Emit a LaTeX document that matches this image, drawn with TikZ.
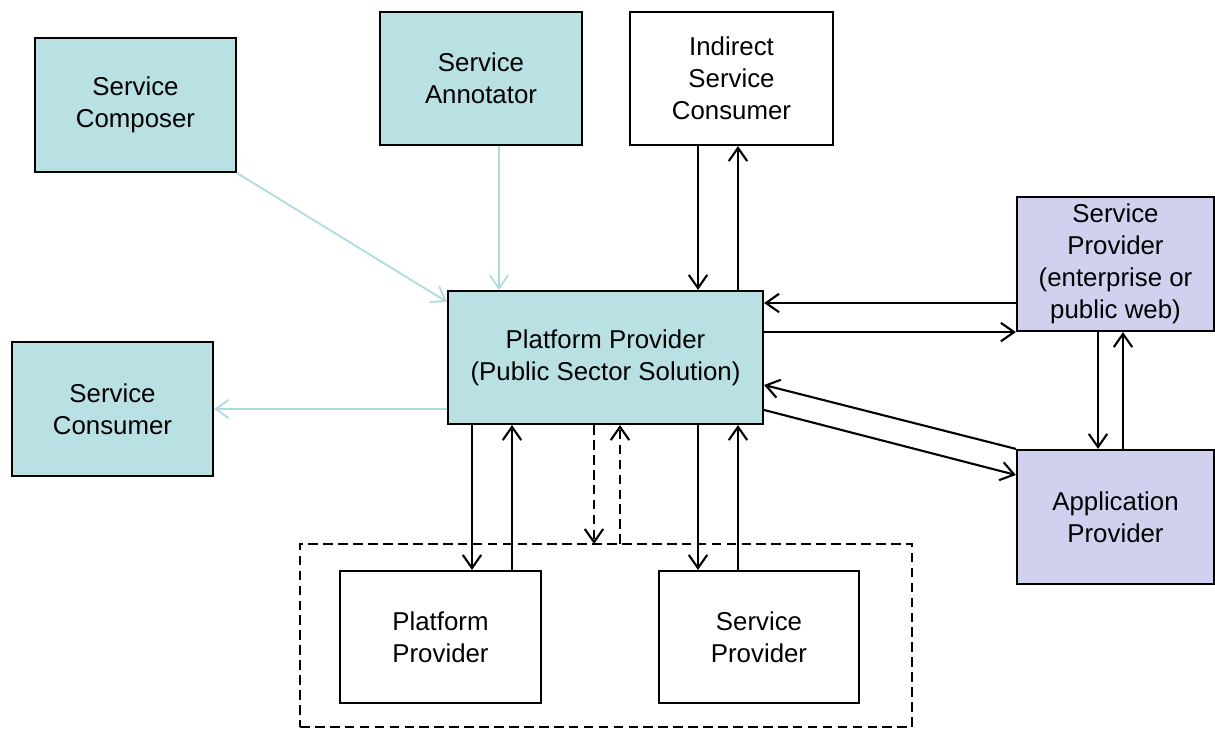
\documentclass[tikz,border=0pt]{standalone}
\usepackage{fontspec}
\setmainfont{Liberation Sans}
\usetikzlibrary{arrows.meta,calc}
\definecolor{tealfill}{HTML}{B9E0E3}
\definecolor{lavfill}{HTML}{D0D0EF}
\definecolor{tealline}{HTML}{AEDADE}
\begin{document}
\begin{tikzpicture}[x=0.02cm,y=-0.02cm,
  box/.style={draw, line width=1.25pt, inner sep=0pt, align=center,
    font=\fontsize{14.7}{18.1}\selectfont},
  wh/.style 2 args={minimum width=#1*0.02cm, minimum height=#2*0.02cm},
  arr/.style={-{Straight Barb[length=7.5pt,width=10.5pt]}, line width=1.2pt},
  tarr/.style={-{Straight Barb[length=7.5pt,width=10.5pt]}, line width=1pt, draw=tealline},
  dsh/.style={dash pattern=on 5.5pt off 3pt, line width=1.2pt}]
\useasboundingbox (0,0) rectangle (1215,729);

% grouping frame for the underlying providers
\node[draw, dsh, wh={612}{183}, inner sep=0pt] (grp) at (606,635.5) {};

% boxes
\node[box, fill=tealfill, wh={201}{134}] (comp)  at (135.5,105)   {Service\\Composer};
\node[box, fill=tealfill, wh={202}{133}] (annot) at (481,78.5)    {Service\\Annotator};
\node[box, fill=white,    wh={203}{133}] (indir) at (731.5,78.5)  {Indirect\\Service\\Consumer};
\node[box, fill=lavfill,  wh={197}{134}] (sprov) at (1115.5,264)  {Service\\Provider\\(enterprise or\\public web)};
\node[box, fill=tealfill, wh={315}{133}] (plat)  at (605.5,357.5) {Platform Provider\\(Public Sector Solution)};
\node[box, fill=tealfill, wh={201}{134}] (cons)  at (112.5,409)   {Service\\Consumer};
\node[box, fill=lavfill,  wh={197}{134}] (app)   at (1115.5,517)  {Application\\Provider};
\node[box, fill=white,    wh={201}{132}] (pp2)   at (440.5,637)   {Platform\\Provider};
\node[box, fill=white,    wh={200}{132}] (sp2)   at (759,637)     {Service\\Provider};

% attachment points
\coordinate (c1) at ($(plat.north west)+(0,12)$);
\coordinate (a1) at ($(annot.south)+(18,0)$);
\coordinate (i1) at ($(indir.south)+(-33.5,0)$);
\coordinate (i2) at ($(indir.south)+(6.5,0)$);
\coordinate (r1) at ($(sprov.west)+(0,39)$);
\coordinate (r2) at ($(plat.east)+(0,27.5)$);
\coordinate (r3) at ($(plat.east)+(0,52.5)$);
\coordinate (r4) at ($(app.west)+(0,-42)$);
\coordinate (v1) at ($(sprov.south)+(-17.5,0)$);
\coordinate (v2) at ($(sprov.south)+(7.5,0)$);
\coordinate (b1) at ($(pp2.north)+(31.5,0)$);
\coordinate (b2) at ($(pp2.north)+(71.5,0)$);
\coordinate (d1) at (594,544);
\coordinate (d2) at (620,544);
\coordinate (b3) at ($(sp2.north)+(-61,0)$);
\coordinate (b4) at ($(sp2.north)+(-21,0)$);

% light connectors
\draw[tarr] (comp.south east) -- (c1);
\draw[tarr] (a1) -- (a1 |- plat.north);
\draw[tarr] (plat.west |- cons.east) -- (cons.east);

% indirect consumer
\draw[arr] (i1) -- (i1 |- plat.north);
\draw[arr] (i2 |- plat.north) -- (i2);

% service provider (enterprise or public web)
\draw[arr] (r1) -- (r1 -| plat.east);
\draw[arr] (plat.east |- sprov.south west) -- (sprov.south west);

% application provider
\draw[arr] (app.north west) -- (r2);
\draw[arr] (r3) -- (r4);
\draw[arr] (v1) -- (v1 |- app.north);
\draw[arr] (v2 |- app.north) -- (v2);

% underlying providers
\draw[arr] (b1 |- plat.south) -- (b1);
\draw[arr] (b2) -- (b2 |- plat.south);
\draw[arr, dsh] (d1 |- plat.south) -- (d1);
\draw[arr, dsh] (d2) -- (d2 |- plat.south);
\draw[arr] (b3 |- plat.south) -- (b3);
\draw[arr] (b4) -- (b4 |- plat.south);
\end{tikzpicture}
\end{document}
